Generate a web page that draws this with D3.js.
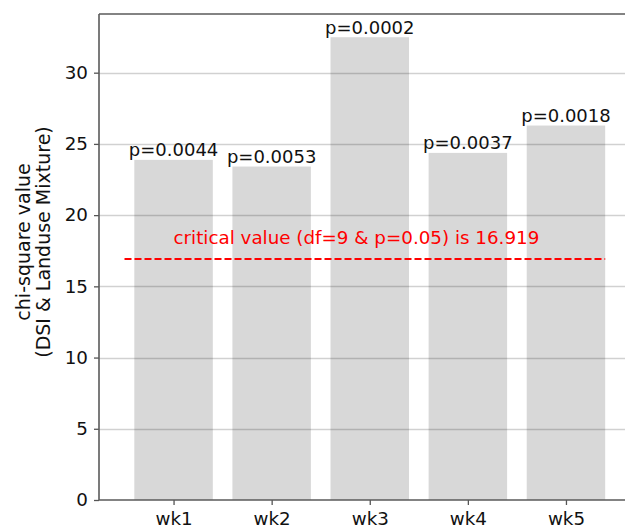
<!DOCTYPE html>
<html>
<head>
<meta charset="utf-8">
<script src="https://cdn.jsdelivr.net/npm/d3@7"></script>
<style>
  html, body { margin: 0; padding: 0; background: #fff; }
  svg { display: block; font-family: "DejaVu Sans", sans-serif; }
</style>
</head>
<body>
<svg id="chart" width="625" height="527"></svg>
<script>
// Weekly chi-square values with their p-values
const weeks = ["wk1", "wk2", "wk3", "wk4", "wk5"];
const chiSquare = [23.88, 23.41, 32.49, 24.37, 26.29];
const pLabels = ["p=0.0044", "p=0.0053", "p=0.0002", "p=0.0037", "p=0.0018"];
const yTicks = [0, 5, 10, 15, 20, 25, 30];
const criticalValue = 16.919;
const criticalText = "critical value (df=9 & p=0.05) is 16.919";

const svg = d3.select("#chart");
const plotLeft = 99, plotTop = 14, plotBottom = 500;

// index-based x scale: bars span i-0.4 .. i+0.4
const x = d3.scaleLinear().domain([-0.76, 4.76]).range([plotLeft, plotLeft + 5.52 * 98.1]);
const y = d3.scaleLinear().domain([0, 34.12]).range([plotBottom, plotTop]);

const plot = svg.append("g");

// bars
plot.selectAll("rect.bar")
  .data(chiSquare)
  .join("rect")
  .attr("class", "bar")
  .attr("x", (d, i) => x(i - 0.4))
  .attr("width", (d, i) => x(i + 0.4) - x(i - 0.4))
  .attr("y", d => y(d))
  .attr("height", d => y(0) - y(d))
  .attr("fill", "#d8d8d8");

// horizontal grid, drawn over the bars
plot.selectAll("line.grid")
  .data(yTicks.filter(t => t > 0))
  .join("line")
  .attr("class", "grid")
  .attr("x1", plotLeft).attr("x2", 640)
  .attr("y1", d => Math.round(y(d)) + 0.5)
  .attr("y2", d => Math.round(y(d)) + 0.5)
  .attr("stroke", "rgba(0,0,0,0.18)")
  .attr("stroke-width", 1.3);

// p-value labels above bars
plot.selectAll("text.p")
  .data(chiSquare)
  .join("text")
  .attr("class", "p")
  .attr("x", (d, i) => x(i))
  .attr("y", d => y(d) - 3.5)
  .attr("text-anchor", "middle")
  .attr("font-size", 18)
  .attr("fill", "#111")
  .text((d, i) => pLabels[i]);

// critical value line and its note
plot.append("line")
  .attr("x1", x(-0.5)).attr("x2", x(4.4))
  .attr("y1", y(criticalValue)).attr("y2", y(criticalValue))
  .attr("stroke", "red")
  .attr("stroke-width", 2)
  .attr("stroke-dasharray", "7,3");

plot.append("text")
  .attr("x", x(0))
  .attr("y", y(18))
  .attr("font-size", 18.3)
  .attr("fill", "red")
  .text(criticalText);

// axes
const yAxis = d3.axisLeft(y).tickValues(yTicks).tickSize(5).tickPadding(6);
const gy = svg.append("g").attr("transform", `translate(${plotLeft},0)`).call(yAxis);
gy.select(".domain").remove();
gy.selectAll("text").attr("font-size", 18.3).attr("fill", "#111").attr("font-family", "DejaVu Sans");
gy.selectAll("line").attr("stroke", "#555").attr("stroke-width", 1.3);

const xAxis = d3.axisBottom(x).tickValues(d3.range(weeks.length)).tickFormat(i => weeks[i]).tickSize(5).tickPadding(7);
const gx = svg.append("g").attr("transform", `translate(0,${plotBottom})`).call(xAxis);
gx.select(".domain").remove();
gx.selectAll("text").attr("font-size", 18.3).attr("fill", "#111").attr("font-family", "DejaVu Sans");
gx.selectAll("line").attr("stroke", "#555").attr("stroke-width", 1.3);

// spines
const spine = svg.append("g").attr("stroke", "#5a5a5a").attr("stroke-width", 1.6).attr("fill", "none");
spine.append("line").attr("x1", plotLeft).attr("x2", plotLeft).attr("y1", plotTop).attr("y2", plotBottom);
spine.append("line").attr("x1", plotLeft).attr("x2", 640).attr("y1", plotTop).attr("y2", plotTop);
spine.append("line").attr("x1", plotLeft).attr("x2", 640).attr("y1", plotBottom).attr("y2", plotBottom);

// y-axis title
const yTitle = svg.append("text")
  .attr("transform", "translate(0,242) rotate(-90)")
  .attr("text-anchor", "middle")
  .attr("font-size", 19)
  .attr("fill", "#111");
yTitle.append("tspan").attr("x", 0).attr("y", 30).text("chi-square value");
yTitle.append("tspan").attr("x", 0).attr("y", 50).text("(DSI & Landuse Mixture)");
</script>
</body>
</html>
